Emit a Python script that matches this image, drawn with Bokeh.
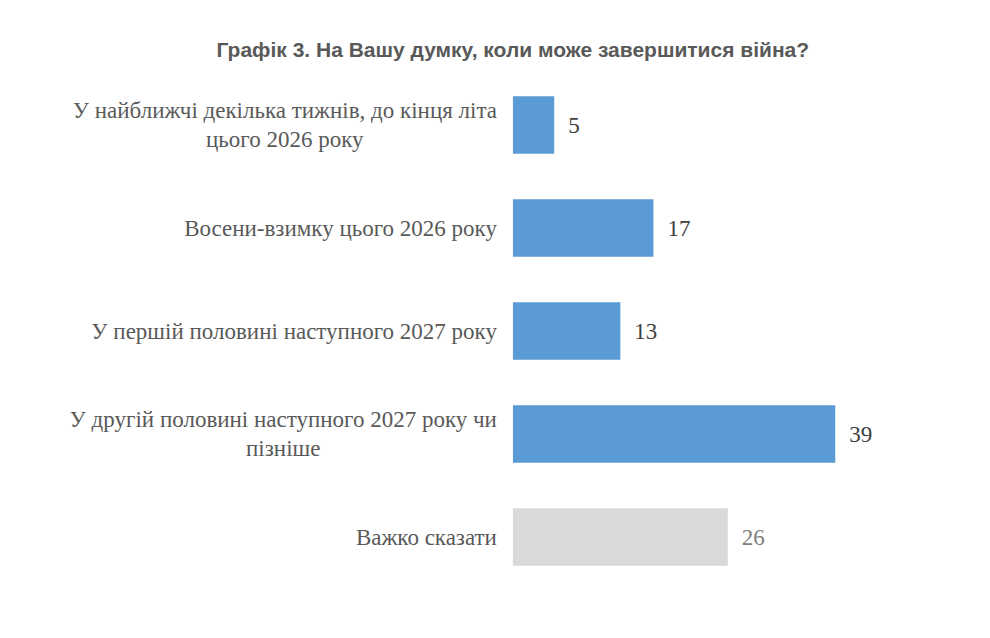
from bokeh.plotting import figure
from bokeh.models import FactorRange, Range1d, ColumnDataSource
from bokeh.core.properties import value
from bokeh.embed import file_html
from bokeh.resources import INLINE

title = "Графік 3. На Вашу думку, коли може завершитися війна?"
categories = [
    "У найближчі декілька тижнів, до кінця літа\nцього 2026 року",
    "Восени-взимку цього 2026 року",
    "У першій половині наступного 2027 року",
    "У другій половині наступного 2027 року чи\nпізніше",
    "Важко сказати",
]
values = [5, 17, 13, 39, 26]
bar_colors = ["#5B9BD5", "#5B9BD5", "#5B9BD5", "#5B9BD5", "#D9D9D9"]
value_colors = ["#404040", "#404040", "#404040", "#404040", "#7F7F7F"]

SERIF = "'Liberation Serif', 'Times New Roman', serif"

src = ColumnDataSource(dict(
    cat=categories,
    val=values,
    zero=[0] * len(values),
    txt=[str(v) for v in values],
    bc=bar_colors,
    vc=value_colors,
))

p = figure(
    width=974, height=622,
    y_range=FactorRange(factors=categories[::-1], range_padding=0),
    x_range=Range1d(-62, 55),
    x_axis_location=None, y_axis_location=None,
    output_backend="svg", toolbar_location=None,
    min_border_left=0, min_border_right=7,
    min_border_top=73, min_border_bottom=34,
)
p.outline_line_color = None
p.xgrid.visible = False
p.ygrid.visible = False

p.title.text = title
p.title.align = "left"
p.title.offset = 216
p.title.standoff = 25
p.title.text_font = "Liberation Sans"
p.title.text_font_style = "bold"
p.title.text_font_size = "21px"
p.title.text_color = "#595959"

p.hbar(y="cat", left="zero", right="val", height=0.56, fill_color="bc",
       line_color=None, source=src)

p.text(x="val", y="cat", text="txt", x_offset=14, text_align="left",
       text_baseline="middle", text_font=value(SERIF),
       text_font_size="23px", text_color="vc", source=src)

p.text(x="zero", y="cat", text="cat", x_offset=-16, anchor=value("center_right"),
       text_align="center", text_baseline="middle", text_line_height=1.16,
       text_font=value(SERIF), text_font_size="23px",
       text_color="#595959", source=src)

open("out.html", "w").write(file_html(p, INLINE))
